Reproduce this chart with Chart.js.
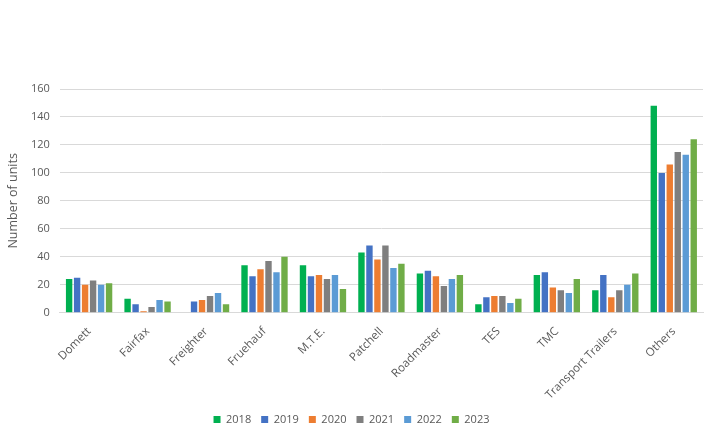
<!DOCTYPE html>
<html lang="en">
  <head>
    <meta charset="UTF-8" />
    <title>Trailer units by make</title>
    <style>
      html,
      body {
        margin: 0;
        padding: 0;
        background: #fff;
      }
      .chart-container {
        width: 707px;
        height: 439px;
      }
    </style>
  </head>
  <body>
    <div class="chart-container">
      <canvas id="unitsChart"></canvas>
    </div>

    <script src="https://cdn.jsdelivr.net/npm/chart.js"></script>
    <script>
      const makes = [
        "Domett",
        "Fairfax",
        "Freighter",
        "Fruehauf",
        "M.T.E.",
        "Patchell",
        "Roadmaster",
        "TES",
        "TMC",
        "Transport Trailers",
        "Others",
      ];
      const years = ["2018", "2019", "2020", "2021", "2022", "2023"];
      const units2018 = [24, 10, 0, 34, 34, 43, 28, 6, 27, 16, 148];
      const units2019 = [25, 6, 8, 26, 26, 48, 30, 11, 29, 27, 100];
      const units2020 = [20, 1, 9, 31, 27, 38, 26, 12, 18, 11, 106];
      const units2021 = [23, 4, 12, 37, 24, 48, 19, 12, 16, 16, 115];
      const units2022 = [20, 9, 14, 29, 27, 32, 24, 7, 14, 20, 113];
      const units2023 = [21, 8, 6, 40, 17, 35, 27, 10, 24, 28, 124];
      const yTicks = [0, 20, 40, 60, 80, 100, 120, 140, 160];

      const seriesValues = [units2018, units2019, units2020, units2021, units2022, units2023];
      const colors = ["#00b050", "#4472c4", "#ed7d31", "#7f7f7f", "#5b9bd5", "#70ad47"];
      const textColor = "#595959";
      const fontFamily = "'Open Sans', sans-serif";

      const ctx = document.getElementById("unitsChart").getContext("2d");
      new Chart(ctx, {
        type: "bar",
        data: {
          labels: makes,
          datasets: years.map((year, i) => ({
            label: year,
            data: seriesValues[i],
            backgroundColor: colors[i],
            borderWidth: 0,
            barPercentage: 0.8,
            categoryPercentage: 0.82,
          })),
        },
        options: {
          responsive: true,
          maintainAspectRatio: false,
          animation: false,
          layout: {
            padding: { top: 89, right: 4, left: 0, bottom: 4 },
          },
          scales: {
            x: {
              // rotated labels get more room than they need, trim it
              afterFit: (scale) => {
                scale.height -= 10;
              },
              grid: { display: false, drawTicks: false },
              border: { color: "#d9d9d9" },
              ticks: {
                color: textColor,
                font: { family: fontFamily, size: 11.5 },
                minRotation: 45,
                maxRotation: 45,
                padding: 12,
                autoSkip: false,
              },
            },
            y: {
              min: 0,
              max: 160,
              afterBuildTicks: (scale) => {
                scale.ticks = yTicks.map((v) => ({ value: v }));
              },
              grid: { color: "#d9d9d9", drawTicks: false },
              border: { display: false },
              ticks: {
                color: textColor,
                font: { family: fontFamily, size: 11 },
                padding: 10,
              },
              title: {
                display: true,
                text: "Number of units",
                color: textColor,
                font: { family: fontFamily, size: 12.5 },
                padding: { top: 6, bottom: 0 },
              },
            },
          },
          plugins: {
            legend: {
              position: "bottom",
              labels: {
                color: textColor,
                font: { family: fontFamily, size: 11 },
                boxWidth: 7,
                boxHeight: 7,
                padding: 10,
              },
            },
            tooltip: { enabled: false },
          },
        },
      });
    </script>
  </body>
</html>
